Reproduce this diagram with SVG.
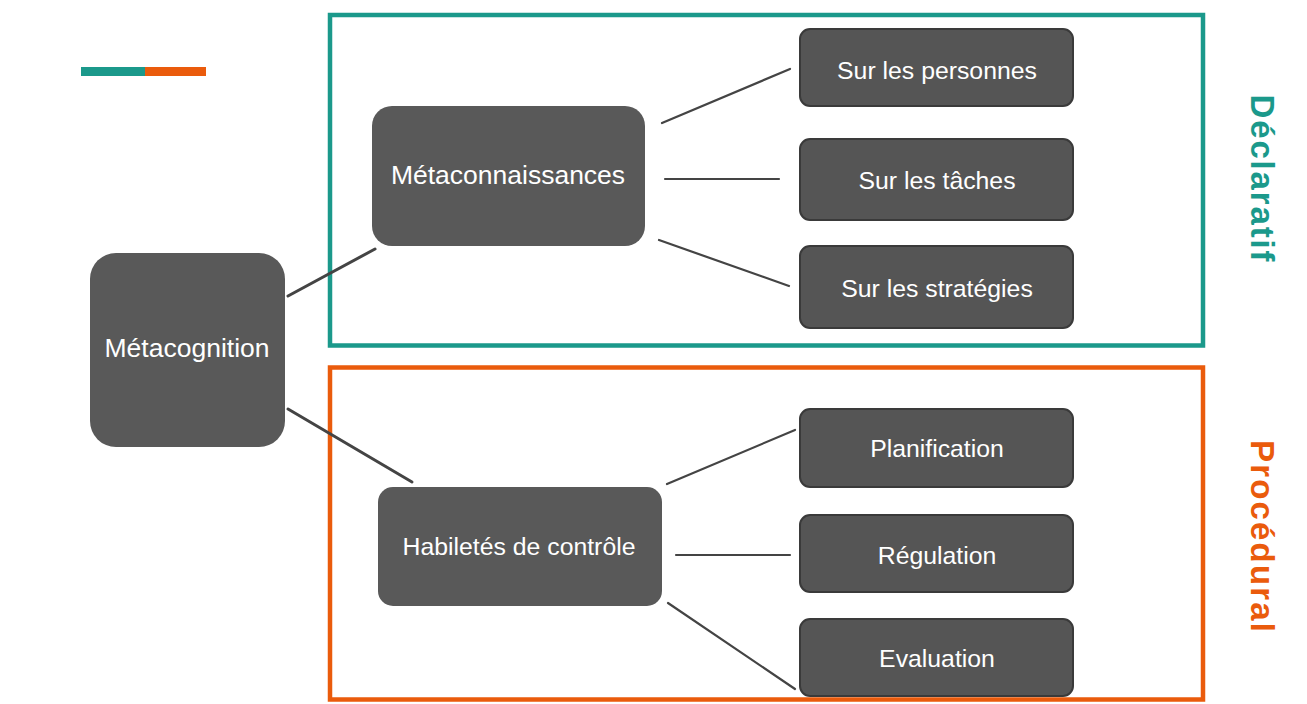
<svg xmlns="http://www.w3.org/2000/svg" width="1307" height="704" viewBox="0 0 1307 704">
<style>
.big{fill:#595959;}
.small{fill:#555555;stroke:#3a3a3a;stroke-width:2;}
.lbl{font-family:"Liberation Sans",Arial,sans-serif;fill:#ffffff;text-anchor:middle;dominant-baseline:central;}
.conn line{stroke:#444444;stroke-width:2.2;stroke-linecap:round;}
.side{font-family:"Liberation Sans",Arial,sans-serif;font-weight:bold;font-size:33px;text-anchor:middle;dominant-baseline:central;}
</style>
<rect width="1307" height="704" fill="#ffffff"/>
<g id="accent">
<rect x="81" y="67" width="64" height="9" fill="#1b998b"/>
<rect x="145" y="67" width="61" height="9" fill="#ea5b0c"/>
</g>
<g id="frame-declaratif">
<rect x="330" y="15" width="873" height="330.5" fill="none" stroke="#1b998b" stroke-width="4.5"/>
<text class="side" fill="#1b998b" transform="translate(1262,178) rotate(90)" textLength="167" lengthAdjust="spacing">Déclaratif</text>
</g>
<g id="frame-procedural">
<rect x="330" y="367.5" width="873" height="332" fill="none" stroke="#ea5b0c" stroke-width="4.5"/>
<text class="side" fill="#ea5b0c" transform="translate(1262,536) rotate(90)" textLength="192" lengthAdjust="spacing">Procédural</text>
</g>
<g class="conn" id="connectors">
<line x1="288" y1="296" x2="375" y2="249" style="stroke-width:3"/>
<line x1="288" y1="409" x2="412" y2="482" style="stroke-width:3"/>
<line x1="662" y1="123" x2="790" y2="69"/>
<line x1="665" y1="179" x2="779" y2="179"/>
<line x1="659" y1="240" x2="789" y2="286"/>
<line x1="667" y1="484" x2="795" y2="430"/>
<line x1="676" y1="555" x2="790" y2="555"/>
<line x1="668" y1="603" x2="795" y2="689"/>
</g>
<g id="metacognition">
<rect class="big" x="90" y="253" width="195" height="194" rx="26"/>
<text class="lbl" x="187" y="348" font-size="26.5">Métacognition</text>
</g>
<g id="metaconnaissances">
<rect class="big" x="372" y="106" width="273" height="140" rx="20"/>
<text class="lbl" x="508" y="175" font-size="26.5">Métaconnaissances</text>
</g>
<g id="habiletes">
<rect class="big" x="378" y="487" width="284" height="119" rx="15"/>
<text class="lbl" x="519" y="546" font-size="24.8">Habiletés de contrôle</text>
</g>
<g id="personnes">
<rect class="small" x="800" y="29" width="273" height="77" rx="10"/>
<text class="lbl" x="937" y="70" font-size="24.8">Sur les personnes</text>
</g>
<g id="taches">
<rect class="small" x="800" y="139" width="273" height="81" rx="10"/>
<text class="lbl" x="937" y="180" font-size="24.8">Sur les tâches</text>
</g>
<g id="strategies">
<rect class="small" x="800" y="246" width="273" height="82" rx="10"/>
<text class="lbl" x="937" y="288" font-size="24.8">Sur les stratégies</text>
</g>
<g id="planification">
<rect class="small" x="800" y="409" width="273" height="78" rx="10"/>
<text class="lbl" x="937" y="448" font-size="24.8">Planification</text>
</g>
<g id="regulation">
<rect class="small" x="800" y="515" width="273" height="77" rx="10"/>
<text class="lbl" x="937" y="555" font-size="24.8">Régulation</text>
</g>
<g id="evaluation">
<rect class="small" x="800" y="619" width="273" height="77" rx="10"/>
<text class="lbl" x="937" y="658" font-size="24.8">Evaluation</text>
</g>
</svg>
